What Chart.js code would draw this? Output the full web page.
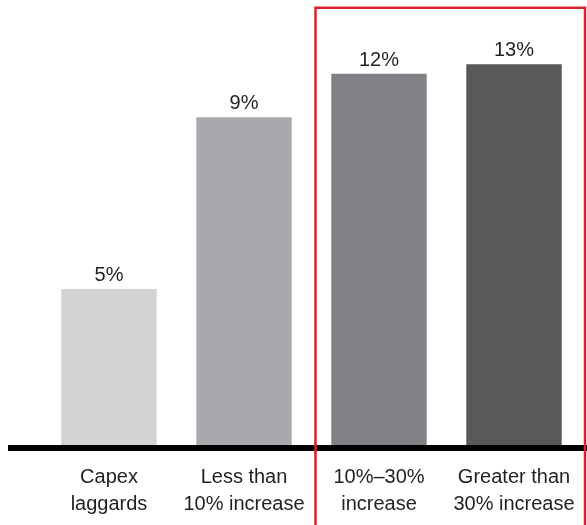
<!DOCTYPE html>
<html>
<head>
<meta charset="utf-8">
<script src="https://cdn.jsdelivr.net/npm/chart.js@4/dist/chart.umd.min.js"></script>
<style>
  html, body { margin: 0; padding: 0; background: #ffffff; }
  #wrap { width: 587px; height: 525px; position: relative; }
</style>
</head>
<body>
<div id="wrap"><canvas id="c" width="587" height="525"></canvas></div>
<script>
// ---- data ----
const categories = [["Capex", "laggards"], ["Less than", "10% increase"], ["10%\u201330%", "increase"], ["Greater than", "30% increase"]];
// bar heights as drawn (in % units, measured from the bars)
const barValues = [5.1, 10.6, 12, 12.3];
// printed value labels
const valueLabels = ["5%", "9%", "12%", "13%"];
const barColors = ["#d1d3d4", "#a7a9ac", "#808285", "#58595b"];
const highlightFrom = 2; // red box around categories from this index to the end

const TEXT = "#231f20";
const FONT = "Arial, \"Liberation Sans\", Helvetica, sans-serif";

const decorPlugin = {
  id: 'decor',
  afterDatasetsDraw(chart) {
    const ctx = chart.ctx;
    const meta = chart.getDatasetMeta(0);
    const area = chart.chartArea;
    // value labels
    ctx.save();
    ctx.fillStyle = TEXT;
    ctx.font = "20px " + FONT;
    ctx.textAlign = 'center';
    ctx.textBaseline = 'alphabetic';
    meta.data.forEach((bar, i) => {
      ctx.fillText(valueLabels[i], bar.x, bar.y - 8);
    });
    // baseline
    ctx.fillStyle = '#000000';
    ctx.fillRect(8, area.bottom - 3, chart.width - 8, 6);
    // red highlight box
    const prev = meta.data[highlightFrom - 1];
    const cur = meta.data[highlightFrom];
    const left = (prev.x + prev.width / 2 + cur.x - cur.width / 2) / 2 + 4;
    const right = chart.width - 2;
    ctx.strokeStyle = '#d7232d';
    ctx.lineWidth = 2.5;
    ctx.beginPath();
    ctx.moveTo(left, chart.height + 5);
    ctx.lineTo(left, 7.8);
    ctx.lineTo(right, 7.8);
    ctx.lineTo(right, chart.height + 5);
    ctx.stroke();
    ctx.restore();
  }
};

new Chart(document.getElementById('c'), {
  type: 'bar',
  data: {
    labels: categories,
    datasets: [{
      data: barValues,
      backgroundColor: barColors,
      borderWidth: 0,
      categoryPercentage: 1,
      barPercentage: 0.707
    }]
  },
  options: {
    responsive: false,
    animation: false,
    devicePixelRatio: 1,
    layout: { autoPadding: false, padding: { left: 41.5, right: 5.5, top: 11.3, bottom: 0 } },
    plugins: { legend: { display: false }, tooltip: { enabled: false } },
    scales: {
      x: {
        grid: { display: false, drawTicks: false },
        border: { display: false },
        afterFit(scale) {
          scale.height = 77;
          scale.paddingLeft = 0;
          scale.paddingRight = 0;
        },
        ticks: {
          color: TEXT,
          padding: 16,
          maxRotation: 0,
          autoSkip: false,
          font: { family: FONT, size: 20, lineHeight: 1.335 }
        }
      },
      y: {
        display: false,
        min: 0,
        max: 14
      }
    }
  },
  plugins: [decorPlugin]
});
</script>
</body>
</html>
